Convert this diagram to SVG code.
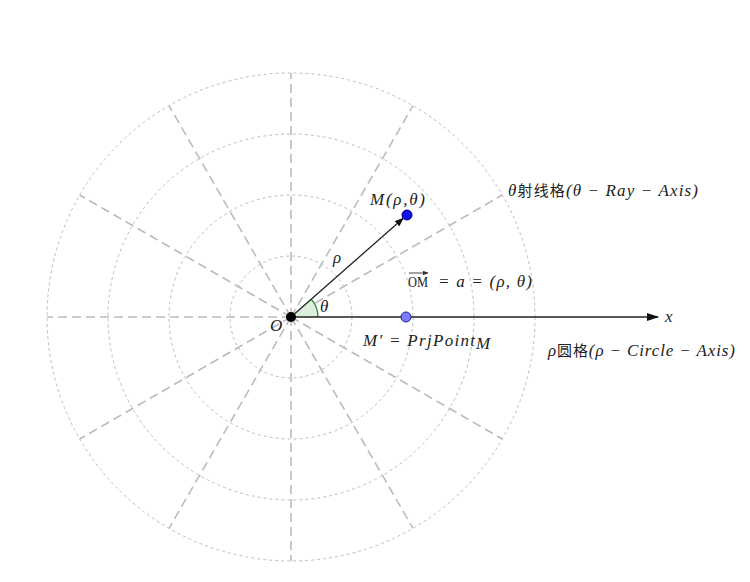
<svg xmlns="http://www.w3.org/2000/svg" width="750" height="582" viewBox="0 0 750 582">
<style>
.circ{fill:none;stroke:#bdbdbd;stroke-width:1;stroke-dasharray:3 3}
.ray{fill:none;stroke:#bcbcbc;stroke-width:1.6;stroke-dasharray:9 5}
.axis{stroke:#222;stroke-width:1.3;fill:none}
.m{font-family:"Liberation Serif","Noto Sans CJK SC",serif;font-style:italic;font-size:17px;fill:#222}
.up{font-family:"Liberation Serif",serif;font-style:normal;font-size:15px;fill:#222}
.cjk{font-family:"Noto Sans CJK SC",sans-serif;font-style:normal;font-size:15px;fill:#222}
</style>
<defs>
<marker id="arr" markerWidth="12" markerHeight="8" refX="11" refY="4" orient="auto" markerUnits="userSpaceOnUse">
<path d="M0,0 L12,4 L0,8 Z" fill="#111"/>
</marker>
<marker id="arrS" markerWidth="9" markerHeight="7" refX="8" refY="3.5" orient="auto" markerUnits="userSpaceOnUse">
<path d="M0,0 L9,3.5 L0,7 Z" fill="#111"/>
</marker>
<marker id="arrT" markerWidth="6" markerHeight="5" refX="5.5" refY="2.5" orient="auto" markerUnits="userSpaceOnUse">
<path d="M0,0 L6,2.5 L0,5 Z" fill="#333"/>
</marker>
</defs>
<rect width="750" height="582" fill="#fff"/>
<g id="grid">
<circle class="circ" cx="291" cy="317" r="61"/>
<circle class="circ" cx="291" cy="317" r="122"/>
<circle class="circ" cx="291" cy="317" r="183"/>
<circle class="circ" cx="291" cy="317" r="244"/>
<line class="ray" x1="291" y1="317" x2="502.3" y2="195"/>
<line class="ray" x1="291" y1="317" x2="413" y2="105.7"/>
<line class="ray" x1="291" y1="317" x2="291" y2="73"/>
<line class="ray" x1="291" y1="317" x2="169" y2="105.7"/>
<line class="ray" x1="291" y1="317" x2="79.7" y2="195"/>
<line class="ray" x1="291" y1="317" x2="47" y2="317"/>
<line class="ray" x1="291" y1="317" x2="79.7" y2="439"/>
<line class="ray" x1="291" y1="317" x2="169" y2="528.3"/>
<line class="ray" x1="291" y1="317" x2="291" y2="561"/>
<line class="ray" x1="291" y1="317" x2="413" y2="528.3"/>
<line class="ray" x1="291" y1="317" x2="502.3" y2="439"/>
</g>
<g id="angle">
<path d="M291,317 L318,317 A27,27 0 0 0 311.3,299.2 Z" fill="#dcefdc" stroke="none"/>
<path d="M318,317 A27,27 0 0 0 311.3,299.2" fill="none" stroke="#2e8b3a" stroke-width="1.3"/>
</g>
<g id="connectors">
<line class="axis" x1="291" y1="317" x2="658" y2="317" marker-end="url(#arr)"/>
<line class="axis" x1="291" y1="317" x2="403" y2="218.5" marker-end="url(#arrS)"/>
</g>
<g id="node-O"><circle cx="291" cy="317" r="5" fill="#000"/></g>
<g id="node-M"><circle cx="407" cy="215" r="5" fill="#1010ee" stroke="#00008b" stroke-width="1"/></g>
<g id="node-Mp"><circle cx="406" cy="317" r="5" fill="#7b7bff" stroke="#22228b" stroke-width="1"/></g>
<g id="labels">
<text class="m" x="370" y="205" textLength="55" lengthAdjust="spacing">M(ρ,θ)</text>
<text class="m" x="333" y="263">ρ</text>
<text class="m" x="320" y="312">θ</text>
<text class="m" x="270" y="331">O</text>
<text class="m" x="665" y="322">x</text>
<text class="up" x="408" y="287" textLength="20" lengthAdjust="spacingAndGlyphs">OM</text>
<line x1="409" y1="273" x2="428" y2="273" stroke="#333" stroke-width="0.9" marker-end="url(#arrT)"/>
<text class="m" x="438" y="287" textLength="94" lengthAdjust="spacing">= a = (ρ, θ)</text>
<text class="m" x="363" y="346" textLength="112" lengthAdjust="spacing">M′ = PrjPoint</text>
<text class="m" x="476" y="349" font-size="11">M</text>
<text class="m" x="508" y="196" textLength="190" lengthAdjust="spacing">θ<tspan class="cjk">射线格</tspan>(θ − Ray − Axis)</text>
<text class="m" x="548" y="356" textLength="187" lengthAdjust="spacing">ρ<tspan class="cjk">圆格</tspan>(ρ − Circle − Axis)</text>
</g>
</svg>
